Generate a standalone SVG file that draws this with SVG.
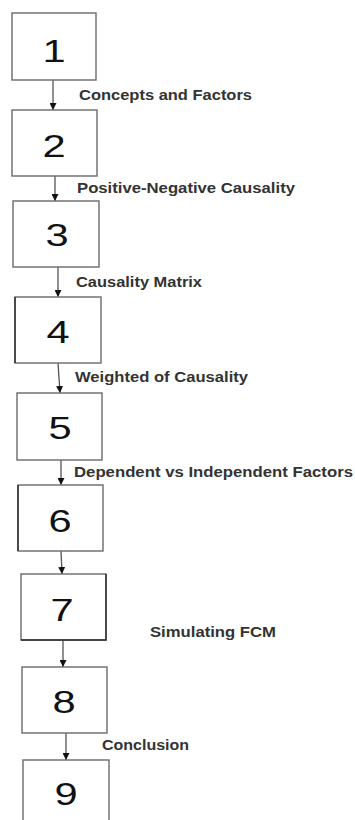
<svg xmlns="http://www.w3.org/2000/svg" width="355" height="820" viewBox="0 0 355 820">
  <style>
    .box { fill: #ffffff; stroke: #6a6a6a; stroke-width: 1.4; }
    .edge { stroke: #2a2a2a; stroke-width: 1.4; }
    .num { font-family: "Liberation Sans", Arial, sans-serif; font-size: 32px; fill: #111; text-anchor: middle; }
    .lbl { font-family: "Liberation Sans", Arial, sans-serif; font-size: 14.5px; font-weight: bold; fill: #333; }
    .link { stroke: #555; stroke-width: 1.3; fill: none; marker-end: url(#tip); }
  </style>
  <defs>
    <marker id="tip" viewBox="0 0 8 8" refX="8" refY="4" markerWidth="7" markerHeight="7" markerUnits="userSpaceOnUse" orient="auto">
      <path d="M0,0 L8,4 L0,8 Z" fill="#111"/>
    </marker>
  </defs>
  <rect width="355" height="820" fill="#ffffff"/>

  <g id="connectors">
    <line class="link" x1="53" y1="80" x2="53" y2="110"/>
    <line class="link" x1="55" y1="176" x2="55" y2="201"/>
    <line class="link" x1="58" y1="267" x2="58" y2="297"/>
    <line class="link" x1="58" y1="363" x2="60" y2="393"/>
    <line class="link" x1="61" y1="460" x2="61" y2="485"/>
    <line class="link" x1="61" y1="551" x2="62" y2="574"/>
    <line class="link" x1="63" y1="640" x2="63" y2="667"/>
    <line class="link" x1="66" y1="733" x2="66" y2="760"/>
  </g>

  <g id="labels">
    <text class="lbl" x="79" y="100" textLength="173" lengthAdjust="spacingAndGlyphs">Concepts and Factors</text>
    <text class="lbl" x="77" y="193" textLength="218" lengthAdjust="spacingAndGlyphs">Positive-Negative Causality</text>
    <text class="lbl" x="76" y="287" textLength="126" lengthAdjust="spacingAndGlyphs">Causality Matrix</text>
    <text class="lbl" x="75" y="382" textLength="173" lengthAdjust="spacingAndGlyphs">Weighted of Causality</text>
    <text class="lbl" x="74" y="477" textLength="279" lengthAdjust="spacingAndGlyphs">Dependent vs Independent Factors</text>
    <text class="lbl" x="150" y="637" textLength="126" lengthAdjust="spacingAndGlyphs">Simulating FCM</text>
    <text class="lbl" x="102" y="750" textLength="87" lengthAdjust="spacingAndGlyphs">Conclusion</text>
  </g>

  <g id="node1">
    <rect class="box" x="12" y="13" width="84" height="67"/>
    <text class="num" transform="translate(54,62) scale(1.3,1)">1</text>
  </g>
  <g id="node2">
    <rect class="box" x="12" y="110" width="85" height="66"/>
    <text class="num" transform="translate(54,157) scale(1.3,1)">2</text>
  </g>
  <g id="node3">
    <rect class="box" x="13" y="201" width="86" height="66"/>
    <text class="num" transform="translate(57,246) scale(1.3,1)">3</text>
  </g>
  <g id="node4">
    <rect class="box" x="15" y="297" width="86" height="66"/>
    <line class="edge" x1="15" y1="297" x2="15" y2="363"/>
    <text class="num" transform="translate(58,343) scale(1.3,1)">4</text>
  </g>
  <g id="node5">
    <rect class="box" x="17" y="393" width="85" height="67"/>
    <text class="num" transform="translate(60,439) scale(1.3,1)">5</text>
  </g>
  <g id="node6">
    <rect class="box" x="18" y="485" width="85" height="66"/>
    <line class="edge" x1="18" y1="485" x2="18" y2="551"/>
    <text class="num" transform="translate(60,532) scale(1.3,1)">6</text>
  </g>
  <g id="node7">
    <rect class="box" x="21" y="574" width="85" height="66"/>
    <polyline class="edge" fill="none" points="106,574 106,640 21,640"/>
    <text class="num" transform="translate(62,621) scale(1.3,1)">7</text>
  </g>
  <g id="node8">
    <rect class="box" x="22" y="667" width="85" height="66"/>
    <text class="num" transform="translate(64,713) scale(1.3,1)">8</text>
  </g>
  <g id="node9">
    <rect class="box" x="23" y="760" width="86" height="80"/>
    <text class="num" transform="translate(66,805) scale(1.3,1)">9</text>
  </g>
</svg>
